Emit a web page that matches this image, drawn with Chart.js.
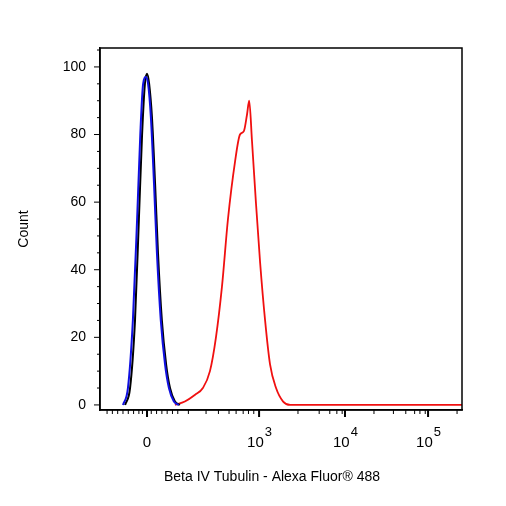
<!DOCTYPE html><html><head><script src="https://cdn.jsdelivr.net/npm/chart.js"></script>
<style>body{margin:0;background:#fff}#w{width:506px;height:506px}</style></head><body><div id="w"><canvas id="c"></canvas></div>
<script>
const blackX=[71,85,99,110,119,127,133,139,147,156,164,175,187,198,212,226];
const blackY=[0,5,25,55,80,95,98,95,85,65,45,25,12,5,1,0];
const blueX=[65,79,93,105,114,122,130,136,144,153,161,172,184,195,209,223];
const blueY=[0,5,25,55,80,95,97,95,85,65,45,25,12,5,1,0];
const redX=[212,240,269,291,311,328,345,362,382,396,407,416,422,430,441,453,467,481,498,518,538,1024];
const redY=[0,1,3,5,10,20,35,55,72,80,81,86,90,78,60,42,25,12,5,1,0,0];
const xTickVals=[133,450,693,928];
const xTickLabels=['0','10|3','10|4','10|5'];
const xMinorVals=[20,35,50,65,80,95,110,120,145,160,175,190,205,220,250,300,335,365,385,405,420,435,560,620,650,670,685,775,830,865,890,905,920,1010];
const yTicks=[0,20,40,60,80,100];
const pts=(xs,ys)=>xs.map((x,i)=>({x,y:ys[i]}));
const F='"Liberation Sans", Arial, sans-serif';
new Chart(document.getElementById('c'),{type:'line',data:{datasets:[
{data:pts(blueX,blueY),borderColor:'#1010e0',borderWidth:2,pointRadius:0,cubicInterpolationMode:'monotone'},
{data:pts(blackX,blackY),borderColor:'#000',borderWidth:2,pointRadius:0,cubicInterpolationMode:'monotone'},
{data:pts(redX,redY),borderColor:'#f01010',borderWidth:1.8,pointRadius:0,cubicInterpolationMode:'monotone'}]},
options:{responsive:true,maintainAspectRatio:false,animation:false,
layout:{padding:{top:48,right:44,bottom:0,left:12}},
plugins:{legend:{display:false},tooltip:{enabled:false}},
scales:{
x:{type:'linear',min:0,max:1024,border:{color:'#000',width:1.5},grid:{display:false},
 ticks:{display:false},afterFit:s=>{s.height=96;}},
y:{min:-1.5,max:105.6,border:{color:'#000',width:1.5},grid:{display:false},
 afterBuildTicks:a=>{a.ticks=yTicks.map(v=>({value:v}));},
 ticks:{color:'#000',font:{family:F,size:14},padding:6},
 title:{display:true,text:'Count',color:'#000',font:{family:F,size:14},padding:{bottom:24}},
 afterFit:s=>{s.width=88;}}}},
plugins:[{id:'frame',afterDraw(c){const a=c.chartArea,g=c.ctx,x=c.scales.x,y=c.scales.y;g.save();g.strokeStyle='#000';g.lineWidth=1.5;g.strokeRect(a.left,a.top,a.right-a.left,a.bottom-a.top);
g.lineWidth=1;g.beginPath();for(let v=0;v<=105;v+=5){const p=y.getPixelForValue(v);g.moveTo(a.left,p);g.lineTo(a.left-(v%20?3:6),p);}
const b=a.bottom;
xMinorVals.forEach(v=>{const p=x.getPixelForValue(v);g.moveTo(p,b);g.lineTo(p,b+4);});g.stroke();
g.lineWidth=2;g.beginPath();xTickVals.forEach(v=>{const p=x.getPixelForValue(v);g.moveTo(p,b);g.lineTo(p,b+7);});g.stroke();
g.fillStyle='#000';g.textBaseline='alphabetic';
xTickLabels.forEach((t,i)=>{const p=x.getPixelForValue(xTickVals[i]);const [m,s]=t.split('|');g.font='15px '+F;const w=g.measureText(m).width;g.font='13px '+F;const ws=s?g.measureText(s).width:0;let s0=p-(w+ws)/2;g.font='15px '+F;g.textAlign='left';g.fillText(m,s0,447);if(s){g.font='13px '+F;g.fillText(s,s0+w+1,436);}});
g.font='14px '+F;g.textAlign='center';g.fillText('Beta IV Tubulin - Alexa Fluor® 488',a.left+172,481);
g.restore();}}]
});
</script></body></html>
